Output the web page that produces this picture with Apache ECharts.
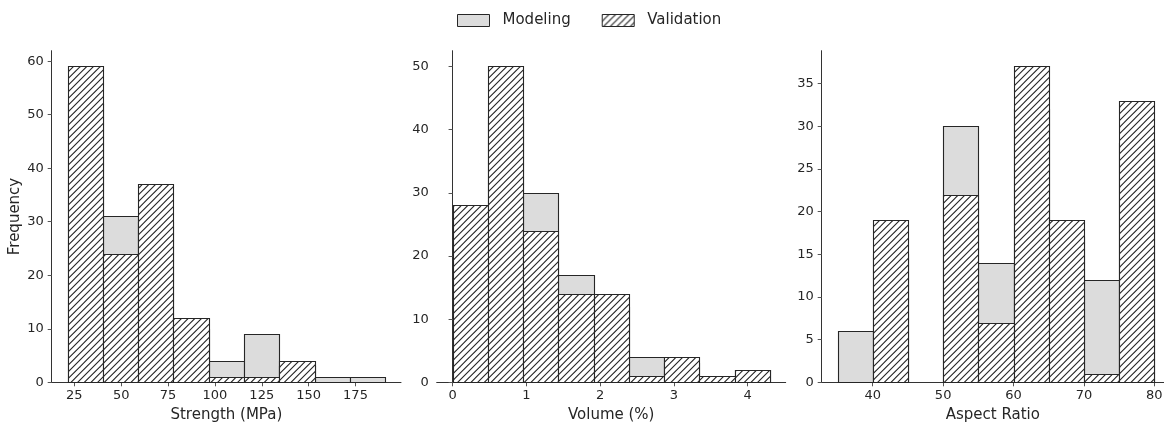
<!DOCTYPE html>
<html>
<head>
<meta charset="utf-8">
<script src="https://cdn.jsdelivr.net/npm/echarts@6/dist/echarts.min.js"></script>
<style>
html,body{margin:0;padding:0;background:#fff;}
#chart{width:1164px;height:423px;}
</style>
</head>
<body>
<div id="chart"></div>
<script>
// ---------- data ----------
const strengthEdges = [21.4, 40.22, 59.04, 77.87, 96.69, 115.51, 134.33, 153.16, 171.98, 190.8];
const strengthModeling = [52, 31, 30, 10, 4, 9, 3, 1, 1];
const strengthValidation = [59, 24, 37, 12, 1, 1, 4, 0, 0];

const volumeEdges = [0, 0.478, 0.956, 1.433, 1.911, 2.389, 2.867, 3.344, 3.822, 4.3];
const volumeModeling = [25, 42, 30, 17, 12, 4, 3, 1, 2];
const volumeValidation = [28, 50, 24, 14, 14, 1, 4, 1, 2];

const aspectEdges = [35, 40, 45, 50, 55, 60, 65, 70, 75, 80];
const aspectModeling = [6, 15, 0, 30, 14, 32, 17, 12, 28];
const aspectValidation = [0, 19, 0, 22, 7, 37, 19, 1, 33];

const strengthTicks = [25, 50, 75, 100, 125, 150, 175];
const volumeTicks = [0, 1, 2, 3, 4];
const aspectTicks = [40, 50, 60, 70, 80];
const strengthYTicks = [0, 10, 20, 30, 40, 50, 60];
const volumeYTicks = [0, 10, 20, 30, 40, 50];
const aspectYTicks = [0, 5, 10, 15, 20, 25, 30, 35];

const panelNames = ['Strength (MPa)', 'Volume (%)', 'Aspect Ratio'];

// ---------- hatch pattern ----------
function makeHatch() {
  const s = 20;
  const c = document.createElement('canvas');
  c.width = s; c.height = s;
  const ctx = c.getContext('2d');
  ctx.fillStyle = '#ffffff';
  ctx.fillRect(0, 0, s, s);
  ctx.strokeStyle = '#222222';
  ctx.lineWidth = 1.1;
  for (let k = 0; k <= 6; k++) {
    const cc = k * s / 3;
    ctx.beginPath();
    ctx.moveTo(cc - 30, 30);
    ctx.lineTo(cc + 10, -10);
    ctx.stroke();
  }
  return c;
}
const hatch = { image: makeHatch(), repeat: 'repeat' };
const greyFill = '#dcdcdc';
const edgeColor = '#262626';

function rows(edges, vals) {
  return vals.map((v, i) => [edges[i], edges[i + 1], v]);
}

function renderBar(fill) {
  return function (params, api) {
    const x0 = api.value(0), x1 = api.value(1), v = api.value(2);
    if (!v) return null;
    const p0 = api.coord([x0, v]);
    const p1 = api.coord([x1, 0]);
    const xa = Math.round(p0[0]) + 0.5, xb = Math.round(p1[0]) + 0.5;
    const ya = Math.round(p0[1]) + 0.5, yb = Math.round(p1[1]) + 0.5;
    return {
      type: 'rect',
      shape: { x: xa, y: ya, width: xb - xa, height: yb - ya },
      style: { fill: fill, stroke: edgeColor, lineWidth: 1.1 }
    };
  };
}

const font = 'DejaVu Sans';
const textColor = '#262626';

const panels = [
  { edges: strengthEdges, mod: strengthModeling, val: strengthValidation, xmin: 12.93, xmax: 199.27, ymax: 61.95, xt: strengthTicks, yt: strengthYTicks, left: 51.7, width: 349.3 },
  { edges: volumeEdges, mod: volumeModeling, val: volumeValidation, xmin: -0.215, xmax: 4.515, ymax: 52.5, xt: volumeTicks, yt: volumeYTicks, left: 436.7, width: 349.0 },
  { edges: aspectEdges, mod: aspectModeling, val: aspectValidation, xmin: 32.75, xmax: 81.37, ymax: 38.85, xt: aspectTicks, yt: aspectYTicks, left: 821.7, width: 342.3 }
];

const grids = [], xAxes = [], yAxes = [], series = [];
panels.forEach((p, i) => {
  grids.push({ left: p.left, top: 50.7, width: p.width, height: 331.6, outerBoundsMode: 'none', containLabel: false });
  xAxes.push({
    type: 'value', gridIndex: i, min: p.xmin, max: p.xmax,
    name: panelNames[i], nameLocation: 'middle', nameGap: 24,
    nameTextStyle: { fontFamily: font, fontSize: 15, color: textColor },
    axisLine: { show: true, onZero: false, lineStyle: { color: '#333', width: 1 } },
    axisTick: { show: true, length: 4, lineStyle: { color: '#555' }, customValues: p.xt },
    axisLabel: { fontFamily: font, fontSize: 13, color: textColor, margin: 7, customValues: p.xt },
    splitLine: { show: false }
  });
  yAxes.push({
    type: 'value', gridIndex: i, min: 0, max: p.ymax,
    name: i === 0 ? 'Frequency' : '', nameLocation: 'middle', nameGap: 29,
    nameTextStyle: { fontFamily: font, fontSize: 15, color: textColor },
    axisLine: { show: true, lineStyle: { color: '#333', width: 1 } },
    axisTick: { show: true, length: 4, lineStyle: { color: '#555' }, customValues: p.yt },
    axisLabel: { fontFamily: font, fontSize: 13, color: textColor, margin: 8, customValues: p.yt },
    splitLine: { show: false }
  });
  series.push({
    name: 'Modeling', type: 'custom', xAxisIndex: i, yAxisIndex: i,
    renderItem: renderBar(greyFill), data: rows(p.edges, p.mod),
    encode: { x: [0, 1], y: 2 }, itemStyle: { color: greyFill }, silent: true, z: 2
  });
  series.push({
    name: 'Validation', type: 'custom', xAxisIndex: i, yAxisIndex: i,
    renderItem: renderBar(hatch), data: rows(p.edges, p.val),
    encode: { x: [0, 1], y: 2 }, itemStyle: { color: hatch }, silent: true, z: 3
  });
});

const chart = echarts.init(document.getElementById('chart'), null, { renderer: 'canvas' });
chart.setOption({
  animation: false,
  backgroundColor: '#ffffff',
  legend: {
    left: 452, top: 8, itemWidth: 32, itemHeight: 12, itemGap: 31, selectedMode: false,
    textStyle: { fontFamily: font, fontSize: 15, color: textColor, padding: [0, 0, 0, 8] },
    data: [
      { name: 'Modeling', icon: 'rect', itemStyle: { color: greyFill, borderColor: edgeColor, borderWidth: 1 } },
      { name: 'Validation', icon: 'rect', itemStyle: { color: hatch, borderColor: edgeColor, borderWidth: 1 } }
    ]
  },
  grid: grids,
  xAxis: xAxes,
  yAxis: yAxes,
  series: series
});
</script>
</body>
</html>
